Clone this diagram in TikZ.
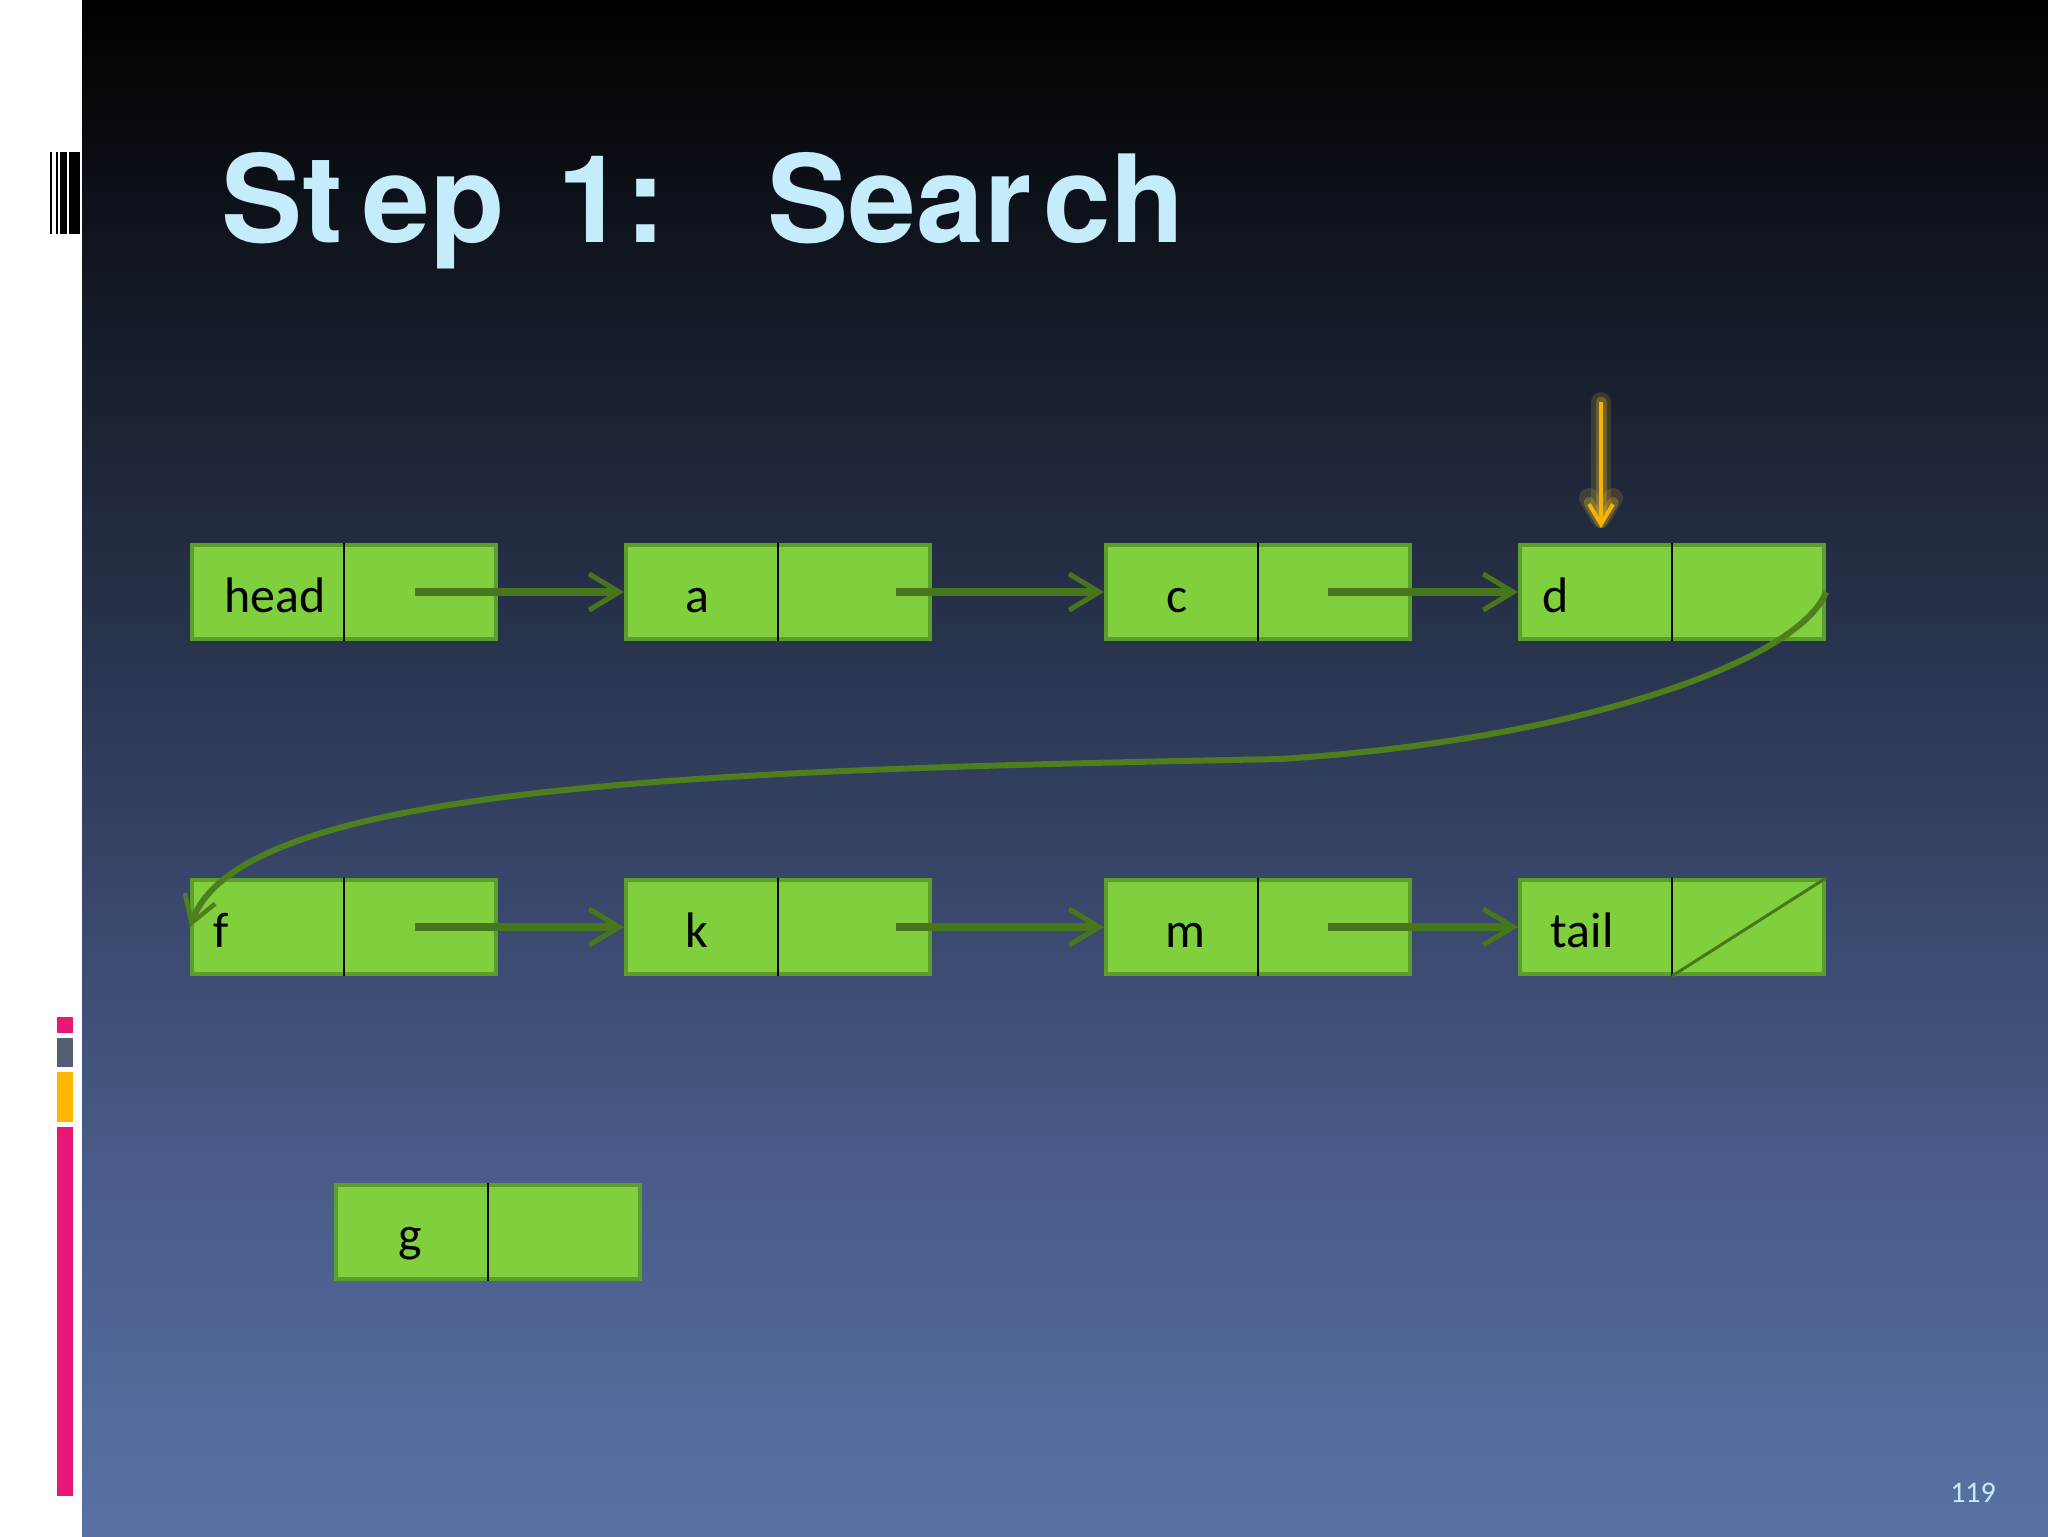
\documentclass[tikz,border=0pt]{standalone}
\usepackage{fontspec}
\setmainfont{Carlito}
\newfontfamily\titlefont{TeX Gyre Heros}
\usetikzlibrary{arrows.meta,calc}
\definecolor{boxfill}{RGB}{127,208,60}
\definecolor{boxborder}{RGB}{92,158,42}
\definecolor{linkgreen}{RGB}{72,118,28}
\definecolor{curvegreen}{RGB}{78,126,30}
\definecolor{ptrorange}{RGB}{245,180,0}
\definecolor{glowyellow}{RGB}{255,205,40}
\definecolor{titlecyan}{RGB}{197,236,250}
\definecolor{bgbot}{RGB}{88,114,165}
\definecolor{bgmtwo}{RGB}{72,90,135}
\definecolor{bgmone}{RGB}{48,61,92}
\definecolor{bgtoptwo}{RGB}{20,26,38}
\definecolor{barpink}{RGB}{232,24,120}
\definecolor{bargray}{RGB}{85,95,115}
\definecolor{barorange}{RGB}{255,182,0}
\pgfdeclareverticalshading{bgsh}{100bp}{color(0bp)=(bgbot); color(25bp)=(bgbot); color(37.5bp)=(bgmtwo); color(50bp)=(bgmone); color(65bp)=(bgtoptwo); color(75bp)=(black); color(100bp)=(black)}
\tikzset{
  lbox/.style={draw=boxborder, line width=0.4mm, fill=boxfill, minimum width=30.4mm, minimum height=9.4mm, inner sep=0pt},
  divider/.style={draw=black, line width=0.25mm},
  ltext/.style={anchor=base, inner sep=0pt, text=black, font=\fontsize{14.2pt}{17pt}\selectfont},
  link/.style={draw=linkgreen, line width=0.8mm, -{Straight Barb[length=3mm,width=3.6mm,line width=0.5mm]}},
  curvelink/.style={draw=curvegreen, line width=0.6mm, -{Straight Barb[length=2.6mm,width=3.2mm,line width=0.45mm]}},
  ptr/.style={draw=ptrorange, line width=0.4mm, -{Straight Barb[length=2mm,width=2.4mm,line width=0.4mm]}},
  ptrglow/.style={draw=glowyellow, opacity=#1, line cap=round, line join=round, -{Straight Barb[round,length=2mm,width=2.4mm]}},
  diag/.style={draw=linkgreen, line width=0.3mm},
  titletext/.style={anchor=base west, inner sep=0pt, text=titlecyan, font=\titlefont\bfseries\fontsize{34.6pt}{40pt}\selectfont},
  pagenum/.style={anchor=base, inner sep=0pt, text=titlecyan, font=\fontsize{8.5pt}{10pt}\selectfont}
}
\begin{document}
\begin{tikzpicture}[x=0.1mm, y=-0.1mm]
\useasboundingbox (0,0) rectangle (2048,1536);
% background
\fill[white] (0,0) rectangle (82,1536);
\shade[shading=bgsh] (82,0) rectangle (2048,1536);
% barcode
\fill[black] (50,152) rectangle (51.5,234);
\fill[black] (56,152) rectangle (58,234);
\fill[black] (60,152) rectangle (67,234);
\fill[black] (69,152) rectangle (79.5,234);
% colour bars
\fill[barpink] (57,1017) rectangle (73,1033);
\fill[bargray] (57,1038) rectangle (73,1067);
\fill[barorange] (57,1072) rectangle (73,1122);
\fill[barpink] (57,1127) rectangle (73,1496);
% title
\node[titletext] (title) at (221,242) {St\hspace{1.95mm}ep\hspace{5.3mm}1:\hspace{10.2mm}Sear\hspace{1.2mm}ch};
% boxes
\node[lbox] (nhead) at (344,592) {};
\node[lbox] (na) at (778,592) {};
\node[lbox] (nc) at (1258,592) {};
\node[lbox] (nd) at (1672,592) {};
\node[lbox] (nf) at (344,927) {};
\node[lbox] (nk) at (778,927) {};
\node[lbox] (nm) at (1258,927) {};
\node[lbox] (ntail) at (1672,927) {};
\node[lbox] (ng) at (488,1232) {};
\foreach \n in {nhead,na,nc,nd,nf,nk,nm,ntail,ng} {\draw[divider] (\n.north) -- (\n.south);}
\draw[diag] (ntail.south) -- (ntail.north east);
% labels
\node[ltext] (thead) at (275,612) {head};
\node[ltext] (ta) at (697,612) {a};
\node[ltext] (tc) at (1177,612) {c};
\node[ltext, anchor=base west] (td) at (1542,612) {d};
\node[ltext, anchor=base west] (tf) at (213,947) {f};
\node[ltext] (tk) at (697,947) {k};
\node[ltext] (tm) at (1185,947) {m};
\node[ltext] (ttail) at (1582,947) {tail};
\node[ltext] (tg) at (410,1251) {g};
% links
\draw[link] ($(nhead.center)+(71,0)$) -- (na.west);
\draw[link] ($(na.center)+(118,0)$) -- (nc.west);
\draw[link] ($(nc.center)+(70,0)$) -- (nd.west);
\draw[link] ($(nf.center)+(71,0)$) -- (nk.west);
\draw[link] ($(nk.center)+(118,0)$) -- (nm.west);
\draw[link] ($(nm.center)+(70,0)$) -- (ntail.west);
\draw[curvelink] (nd.east) .. controls (1800,660) and (1580,740) .. (1280,759) .. controls (700,770) and (240,785) .. (nf.west);
% pointer
\coordinate (ptrstart) at (1601,402);
\draw[ptrglow=0.15, line width=2mm] (ptrstart) -- ($(ptrstart |- nd.north)+(0,-15)$);
\draw[ptrglow=0.25, line width=1.1mm] (ptrstart) -- ($(ptrstart |- nd.north)+(0,-15)$);
\draw[ptr] (ptrstart) -- ($(ptrstart |- nd.north)+(0,-15)$);
% page number
\node[pagenum] (pnum) at (1973,1502) {119};
\end{tikzpicture}
\end{document}
